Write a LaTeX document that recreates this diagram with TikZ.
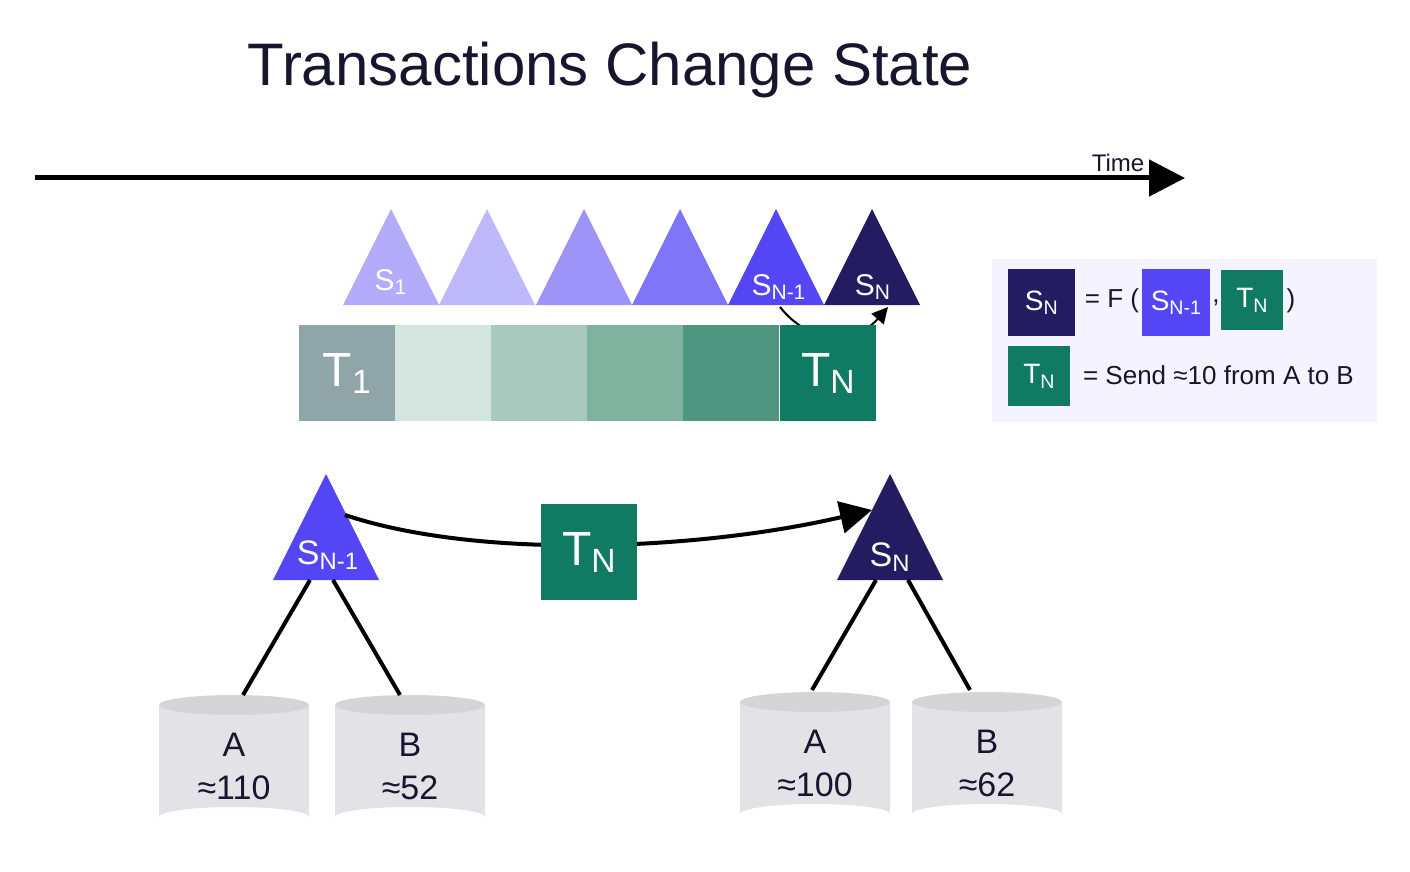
\documentclass[tikz,border=0pt]{standalone}
\usepackage{fontspec}
\setmainfont{Liberation Sans}
\usetikzlibrary{arrows.meta}
\definecolor{navy}{HTML}{231C60}
\definecolor{violet}{HTML}{5546F5}
\definecolor{teal}{HTML}{107A62}
\definecolor{ink}{HTML}{16162E}
\definecolor{drum}{HTML}{E3E3E7}
\definecolor{drumtop}{HTML}{D5D5D8}
\newcommand{\tri}[4]{\fill[#4] (#1-#3,#2) -- (#1,#2-#3*2) -- (#1+#3,#2) -- cycle;}
\newcommand{\drumat}[5]{%
  \fill[drum] (#1-75,#2) -- (#1-75,#2+112) arc[start angle=180,end angle=360,x radius=75,y radius=10] -- (#1+75,#2) -- cycle;
  \fill[drumtop] (#1,#2) ellipse[x radius=75,y radius=10];
  \node[lbl] (#3) at (#1,#2+40) {#4};
  \node[lbl] at (#1,#2+83) {≈#5};}
\begin{document}
\begin{tikzpicture}[x=0.5pt,y=-0.5pt,
  lbl/.style={font=\fontsize{17}{17}\selectfont,text=ink},
  wlbl/.style={font=\fontsize{15}{15}\selectfont,text=white},
  big/.style={font=\fontsize{24}{24}\selectfont,text=white},
  box/.style={minimum width=48pt,minimum height=48pt,inner sep=0pt,anchor=north west},
  key/.style={font=\fontsize{13}{13}\selectfont,text=ink},
  wire/.style={line width=2pt,black}]
\useasboundingbox (0,0) rectangle (1410,872);
% title and time axis
\node[font=\fontsize{30}{30}\selectfont,text=ink] (title) at (610,70) {Transactions Change State};
\coordinate (t0) at (35,178);
\coordinate (t1) at (1185,178);
\draw[line width=2.5pt,-{Triangle[length=18pt,width=18pt]}] (t0) -- (t1);
\node[font=\fontsize{12}{12}\selectfont,text=ink] (time) at (1118,163) {Time};
% small arrow between the last two states
\coordinate (p0) at (780,307);
\coordinate (p1) at (888,307);
\draw[line width=1pt,-{Triangle[length=8pt,width=8pt]}] (p0) .. controls (810,345) and (855,345) .. (p1);
% chain of states
\tri{391}{305}{48}{violet!45}
\tri{487}{305}{48}{violet!38}
\tri{584}{305}{48}{violet!58}
\tri{680}{305}{48}{violet!75}
\tri{776}{305}{48}{violet}
\tri{872}{305}{48}{navy}
\node[wlbl] (s1) at (391,282) {S\textsubscript{1}};
\node[wlbl] (sa) at (779,287) {S\textsubscript{N-1}};
\node[wlbl] (sb) at (873,287) {S\textsubscript{N}};
% chain of transactions
\node[box,fill={rgb,255:red,143;green,165;blue,168}] (q1) at (299,325) {};
\node[box,fill={rgb,255:red,211;green,229;blue,222}] (q2) at (395,325) {};
\node[box,fill={rgb,255:red,169;green,201;blue,191}] (q3) at (491,325) {};
\node[box,fill={rgb,255:red,128;green,178;blue,160}] (q4) at (587,325) {};
\node[box,fill={rgb,255:red,78;green,150;blue,128}] (q5) at (683,325) {};
\node[box,fill=teal] (q6) at (780,325) {};
\node[big] at (q1) {T\textsubscript{1}};
\node[big] at (q6) {T\textsubscript{N}};
% state transition
\tri{326}{580}{53}{violet}
\tri{890}{580}{53}{navy}
\node[wlbl,font=\fontsize{17}{17}\selectfont] (sl) at (328,555) {S\textsubscript{N-1}};
\node[wlbl,font=\fontsize{17}{17}\selectfont] (sr) at (890,557) {S\textsubscript{N}};
\coordinate (c0) at (345,515);
\coordinate (c1) at (872,510);
\draw[wire,-{Triangle[length=16pt,width=16pt]}] (c0) .. controls (480,560) and (700,550) .. (c1);
\node[box,fill=teal] (tx) at (541,504) {};
\node[big] at (tx) {T\textsubscript{N}};
% balances
\drumat{234}{705}{la}{A}{110}
\drumat{410}{705}{lb}{B}{52}
\drumat{815}{702}{ra}{A}{100}
\drumat{987}{702}{rb}{B}{62}
\coordinate (l1) at (310,580); \coordinate (l2) at (333,580);
\coordinate (r1) at (876,580); \coordinate (r2) at (908,580);
\coordinate (la0) at (243,695); \coordinate (lb0) at (400,695);
\coordinate (ra0) at (812,690); \coordinate (rb0) at (970,690);
\draw[wire] (l1) -- (la0);
\draw[wire] (l2) -- (lb0);
\draw[wire] (r1) -- (ra0);
\draw[wire] (r2) -- (rb0);
% legend
\fill[violet!6] (992,259) rectangle (1377,422);
\node[box,fill=navy,minimum width=33.5pt,minimum height=33.5pt] (k1) at (1008,269) {};
\node[wlbl,font=\fontsize{14}{14}\selectfont] at (k1) {S\textsubscript{N}};
\node[key] (eq1) at (1112,301) {= F (};
\node[box,fill=violet,minimum width=34pt,minimum height=33.5pt] (k2) at (1142,269) {};
\node[wlbl,font=\fontsize{14}{14}\selectfont] at (k2) {S\textsubscript{N-1}};
\node[key] (cm) at (1216,303) {,};
\node[box,fill=teal,minimum width=31pt,minimum height=30pt] (k3) at (1221,270) {};
\node[wlbl,font=\fontsize{14}{14}\selectfont] at (k3) {T\textsubscript{N}};
\node[key] (cl) at (1291,301) {)};
\node[box,fill=teal,minimum width=31pt,minimum height=30pt] (k4) at (1008,346) {};
\node[wlbl,font=\fontsize{14}{14}\selectfont] at (k4) {T\textsubscript{N}};
\node[key,anchor=west] (eq2) at (1076,375) {= Send ≈10 from A to B};
\end{tikzpicture}
\end{document}
